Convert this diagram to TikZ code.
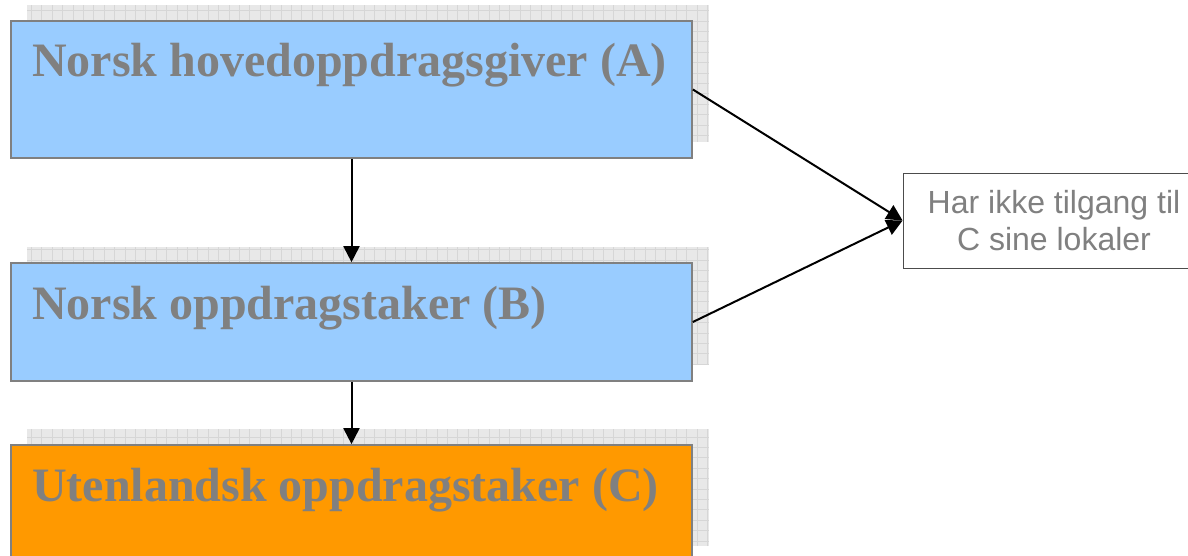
\documentclass[tikz,border=0pt]{standalone}
\usepackage{fontspec}
\setmainfont{Liberation Serif}
\newfontfamily\arialfont{Liberation Sans}
\usetikzlibrary{arrows.meta}
\definecolor{lysblaa}{RGB}{153,204,255}
\definecolor{oransje}{RGB}{255,153,0}
\definecolor{tekstgraa}{RGB}{128,128,128}
\definecolor{skyggegraa}{RGB}{232,232,232}
\definecolor{rutegraa}{RGB}{214,214,214}

\begin{document}
\begin{tikzpicture}[x=1pt, y=-1pt,
    boks/.style={draw=tekstgraa, line width=1.7pt, minimum width=681pt, inner sep=0pt},
    tittel/.style={anchor=base west, inner sep=0pt, text=tekstgraa,
                   font=\fontsize{48}{58}\selectfont\bfseries},
    skygge/.style={fill=skyggegraa},
    pil/.style={black, line width=2pt, -{Triangle[length=16pt,width=16pt]}}]
      \useasboundingbox (0,0) rectangle (1188,556);
      \clip (0,0) rectangle (1188,556);
      % Skygger
      \foreach \yt/\yb in {5/142, 247/365, 429/546}{
        \fill[skygge] (27,\yt) rectangle (709,\yb);
        \draw[rutegraa, line width=0.5pt, step=10.4pt] (27,\yt) grid (709,\yb);
      }
      % Bokser
      \node[boks, fill=lysblaa, minimum height=137pt] (A) at (351.5, 89.5) {};
      \node[boks, fill=lysblaa, minimum height=118pt] (B) at (351.5,322)   {};
      \node[boks, fill=oransje, minimum height=117pt] (C) at (351.5,503.5) {};

      \node[tittel] (tA) at (32, 77) {Norsk hovedoppdragsgiver (A)};
      \node[tittel] (tB) at (32,319) {Norsk oppdragstaker (B)};
      \node[tittel] (tC) at (32,501) {Utenlandsk oppdragstaker (C)};

      \node[draw=black!70, line width=0.8pt, fill=white, minimum width=302pt,
            minimum height=95pt, align=center, text=tekstgraa,
            font=\arialfont\fontsize{32}{37}\selectfont] (D) at (1054,220.5)
            {Har ikke tilgang til\\C sine lokaler};
      % Piler
      \draw[pil] (A) -- (B);
      \draw[pil] (B) -- (C);
      \draw[pil] (A.east) -- (D.west);
      \draw[pil] (B.east) -- (D.west);

    \end{tikzpicture}
\end{document}
